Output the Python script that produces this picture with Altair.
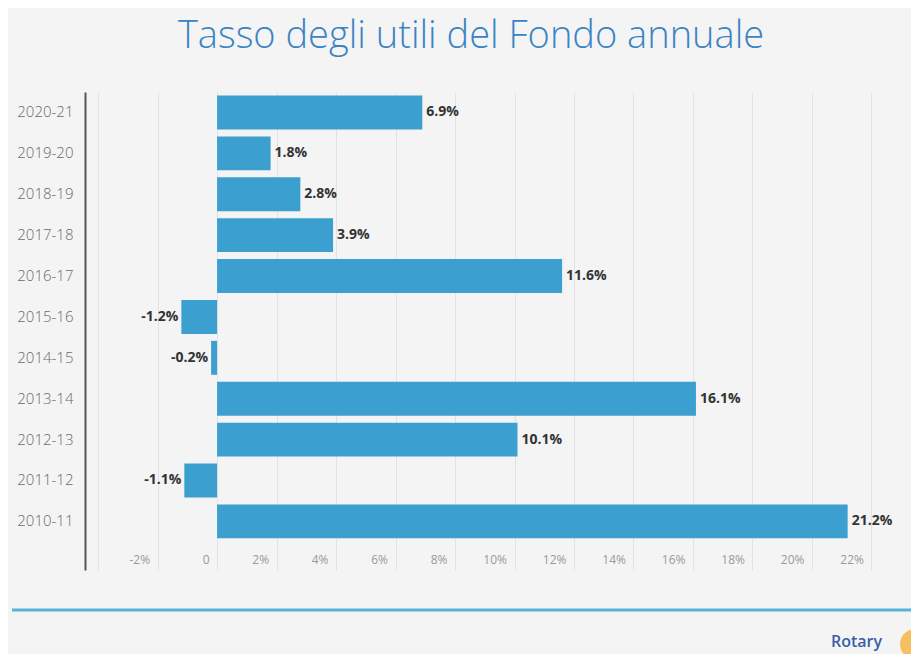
import altair as alt
import pandas as pd

# ---- data ----
title_text = "Tasso degli utili del Fondo annuale"
years = ["2020-21", "2019-20", "2018-19", "2017-18", "2016-17", "2015-16",
         "2014-15", "2013-14", "2012-13", "2011-12", "2010-11"]
values = [6.9, 1.8, 2.8, 3.9, 11.6, -1.2, -0.2, 16.1, 10.1, -1.1, 21.2]
x_ticks = [-4, -2, 0, 2, 4, 6, 8, 10, 12, 14, 16, 18, 20, 22, 24]
brand = ["Rotary"]

df = pd.DataFrame({"year": years, "value": values})
df["label"] = [f"{v:.1f}%" for v in values]

W, H = 826, 478
BAR = "#3b9fcf"
FONT = "Open Sans"

x_scale = alt.Scale(domain=[-4.44, 23.33], nice=False, zero=False)
y_scale = alt.Scale(domain=years, paddingInner=0.17, paddingOuter=0.43, align=0.1)

base = alt.Chart(df)

bars = base.mark_bar(color=BAR).encode(
    y=alt.Y("year:N", sort=years, scale=y_scale,
            axis=alt.Axis(title=None, ticks=False, domain=True, domainColor="#555555",
                          domainWidth=2, labelColor="#6a6a6a", labelFontSize=15,
                          labelFont=FONT, labelFontWeight=300, labelPadding=12, grid=False)),
    x=alt.X("value:Q", scale=x_scale,
            axis=alt.Axis(title=None, values=x_ticks, grid=True, gridColor="#e2e2e2",
                          gridWidth=1, ticks=False, domain=False, labelColor="#9a9a9a",
                          labelFontSize=12, labelFont=FONT, labelAlign="right",
                          labelOffset=-8, labelPadding=-16, labelBaseline="top",
                          labelExpr="datum.value == -4 ? '' : (datum.value == 0 ? '0' : datum.value + '%')")),
)

pos_text = base.transform_filter("datum.value >= 0").mark_text(
    align="left", baseline="middle", dx=4, font=FONT, fontWeight="bold",
    fontSize=14, color="#333333"
).encode(y=alt.Y("year:N", sort=years, scale=y_scale), x=alt.X("value:Q", scale=x_scale),
         text="label:N")

neg_text = base.transform_filter("datum.value < 0").mark_text(
    align="right", baseline="middle", dx=-3, font=FONT, fontWeight="bold",
    fontSize=14, color="#333333"
).encode(y=alt.Y("year:N", sort=years, scale=y_scale), x=alt.X("value:Q", scale=x_scale),
         text="label:N")

title = alt.Chart(pd.DataFrame({"t": [title_text]})).mark_text(
    align="center", baseline="alphabetic", font=FONT, fontSize=38, fontWeight=300,
    color="#3b84c4"
).encode(text="t:N", x=alt.value(386), y=alt.value(-44))

rule = alt.Chart(pd.DataFrame({"t": [0]})).mark_rule(
    color="#56b4da", strokeWidth=3
).encode(x=alt.value(-73), x2=alt.value(830), y=alt.value(518))

logo = alt.Chart(pd.DataFrame({"t": [0]})).mark_point(
    shape="circle", filled=True, color="#f7b23b", opacity=0.8, size=900
).encode(x=alt.value(830), y=alt.value(552))

brand_text = alt.Chart(pd.DataFrame({"t": brand})).mark_text(
    align="left", baseline="middle", font=FONT, fontSize=16, fontWeight=600,
    color="#3a5ea8"
).encode(text="t:N", x=alt.value(746), y=alt.value(550))

chart = alt.layer(bars, pos_text, neg_text, title, rule, logo, brand_text).properties(
    width=W, height=H,
    padding={"left": 77, "top": 84, "right": 0, "bottom": 84},
    autosize=alt.AutoSizeParams(type="none"),
).configure(background="#f4f4f4").configure_view(stroke=None)

chart.save("out.html", embed_options={"renderer": "svg", "actions": False})
